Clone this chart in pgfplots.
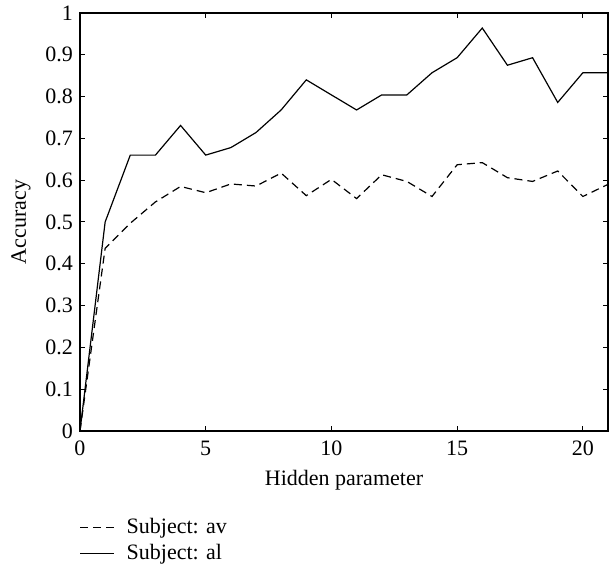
\documentclass[border=0pt]{standalone}
\usepackage{pgfplots}
\pgfplotsset{compat=1.18}
\usepackage{fontspec}
\setmainfont{Liberation Serif}

\pgfplotstableread{
x av al
0 0 0
1 0.437 0.5
2 0.497 0.66
3 0.548 0.66
4 0.585 0.731
5 0.57 0.66
6 0.591 0.678
7 0.586 0.714
8 0.617 0.768
9 0.563 0.84
10 0.602 0.804
11 0.556 0.768
12 0.613 0.804
13 0.597 0.804
14 0.561 0.857
15 0.637 0.893
16 0.642 0.964
17 0.606 0.875
18 0.597 0.893
19 0.622 0.786
20 0.561 0.857
21 0.59 0.857
}\data

\begin{document}
\begin{tikzpicture}
% page frame: 616x565 px at 0.5pt per px, axis box at (80,13)-(608,431) px
\path[use as bounding box] (-40pt,-67pt) rectangle (268pt,215.5pt);
\begin{axis}[
  at={(0pt,0pt)}, anchor=south west,
  width=264pt, height=209pt, scale only axis,
  xmin=0, xmax=21, ymin=0, ymax=1,
  xtick={0,5,10,15,20},
  ytick={0,0.1,...,1},
  tick align=inside, tick pos=both,
  major tick length=2.5pt,
  tick style={black, line width=0.5pt},
  axis line style={line width=0.6pt},
  /pgf/number format/assume math mode=true,
  font=\fontsize{11}{13}\selectfont,
  xticklabel style={yshift=-1.5pt},
  xlabel={Hidden parameter},
  ylabel={Accuracy},
  xlabel style={yshift=-0.5pt},
  ylabel style={yshift=0.5pt},
  legend style={at={(-0.013,-0.188)}, anchor=north west, draw=none, fill=none,
    row sep=0pt, font=\fontsize{11}{13}\selectfont},
  legend cell align=left,
  legend image code/.code={\draw[#1] (0pt,0pt) -- (17pt,0pt); \path (21pt,0pt);},
]
\addplot[black, line width=0.6pt, dash pattern=on 4pt off 2.5pt] table[x=x, y=av] {\data};
\addlegendentry{Subject: av}
\addplot[black, line width=0.6pt] table[x=x, y=al] {\data};
\addlegendentry{Subject: al}
\end{axis}
\end{tikzpicture}
\end{document}
